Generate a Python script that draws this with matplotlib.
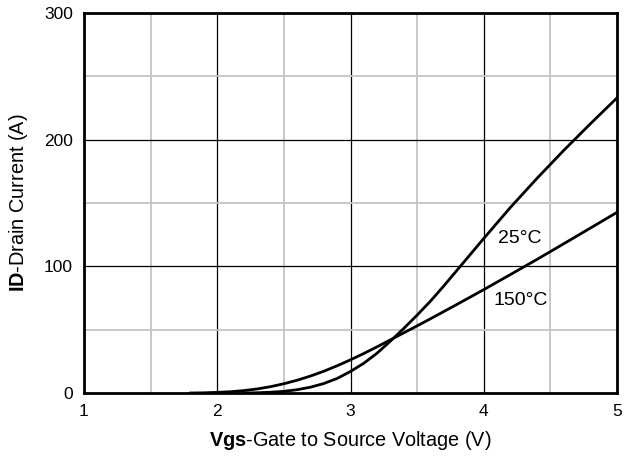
import matplotlib
matplotlib.use("Agg")
import matplotlib.pyplot as plt
from matplotlib.ticker import MultipleLocator

plt.rcParams['font.family'] = ['Liberation Sans', 'DejaVu Sans']
plt.rcParams['mathtext.fontset'] = 'custom'
plt.rcParams['mathtext.rm'] = 'Liberation Sans'
plt.rcParams['mathtext.bf'] = 'Liberation Sans:bold'

# transfer characteristics, Id vs Vgs
vgs_25 = [2.2, 2.3, 2.4, 2.5, 2.6, 2.7, 2.8, 2.9, 3.0, 3.1, 3.2, 3.3, 3.4, 3.5,
          3.6, 3.7, 3.8, 3.9, 4.0, 4.2, 4.4, 4.6, 4.8, 5.0]
id_25 = [0, 0.2, 0.6, 1.3, 2.6, 4.6, 7.5, 11.5, 17, 23.5, 31.5, 41, 51, 61.5,
         72.5, 84.5, 97, 109.5, 122, 146.5, 169.5, 191.5, 212.5, 233]

vgs_150 = [1.8, 1.9, 2.0, 2.1, 2.2, 2.3, 2.4, 2.5, 2.6, 2.7, 2.8, 2.9, 3.0, 3.1, 3.2,
           3.3, 3.4, 3.5, 3.6, 3.7, 3.8, 3.9, 4.0, 4.2, 4.4, 4.6, 4.8, 5.0]
id_150 = [0, 0.15, 0.5, 1.0, 1.9, 3.2, 5.0, 7.3, 10.1, 13.4, 17.2, 21.5, 26.2, 31.2, 36.5,
          42, 47.5, 53, 58.6, 64.3, 70, 75.8, 81.6, 93.5, 105.5, 117.8, 130.2, 142.6]

fig = plt.figure(figsize=(6.29, 4.59), dpi=100)
ax = fig.add_axes([84/629, 1 - 393/459, (617-84)/629, (393-13)/459])

ax.plot(vgs_25, id_25, color='black', lw=2.0, zorder=3, solid_joinstyle='round')
ax.plot(vgs_150, id_150, color='black', lw=2.0, zorder=3, solid_joinstyle='round')

ax.set_xlim(1, 5)
ax.set_ylim(0, 300)
ax.xaxis.set_major_locator(MultipleLocator(1))
ax.xaxis.set_minor_locator(MultipleLocator(0.5))
ax.yaxis.set_major_locator(MultipleLocator(100))
ax.yaxis.set_minor_locator(MultipleLocator(50))

ax.grid(which='minor', color='#c4c4c4', lw=1.3)
ax.grid(which='major', color='black', lw=0.9)
ax.set_axisbelow(True)

ax.tick_params(which='both', length=0, labelsize=12.5, pad=8)
for s in ax.spines.values():
    s.set_linewidth(2)

ax.set_xlabel(r'$\mathbf{Vgs}$-Gate to Source Voltage (V)', fontsize=14.3, labelpad=7)
ax.set_ylabel(r'$\mathbf{ID}$-Drain Current (A)', fontsize=14.3, labelpad=10)

ax.text(4.27, 122, '25°C', fontsize=14, ha='center', va='center')
ax.text(4.28, 73, '150°C', fontsize=14, ha='center', va='center')

fig.savefig('out.png', dpi=100)
